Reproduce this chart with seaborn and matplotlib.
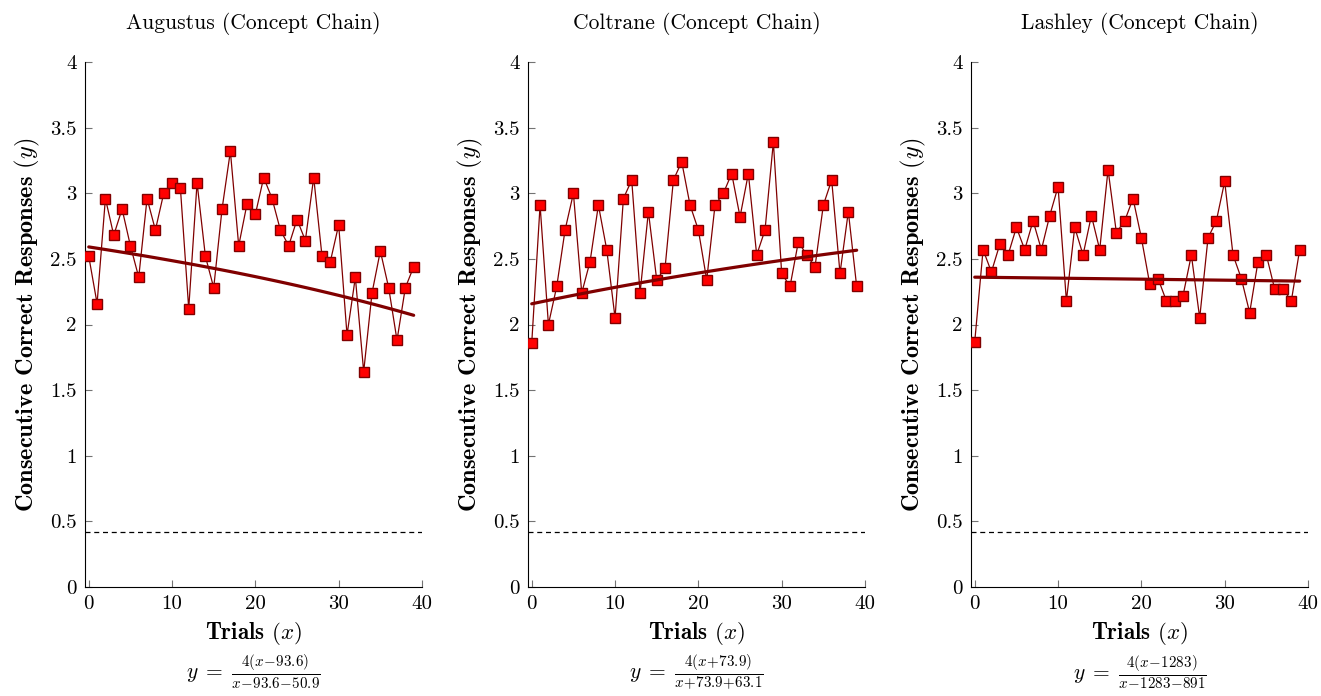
import numpy as np
import pandas as pd
import matplotlib
matplotlib.use("Agg")
import matplotlib.pyplot as plt
import seaborn as sns

# ---------------- data ----------------
trials = list(range(40))
augustus = [2.52, 2.16, 2.96, 2.68, 2.88, 2.60, 2.36, 2.96, 2.72, 3.00,
            3.08, 3.04, 2.12, 3.08, 2.52, 2.28, 2.88, 3.32, 2.60, 2.92,
            2.84, 3.12, 2.96, 2.72, 2.60, 2.80, 2.64, 3.12, 2.52, 2.48,
            2.76, 1.92, 2.36, 1.64, 2.24, 2.56, 2.28, 1.88, 2.28, 2.44]
coltrane = [1.86, 2.91, 2.00, 2.29, 2.72, 3.00, 2.24, 2.48, 2.91, 2.57,
            2.05, 2.96, 3.10, 2.24, 2.86, 2.34, 2.43, 3.10, 3.24, 2.91,
            2.72, 2.34, 2.91, 3.00, 3.15, 2.82, 3.15, 2.53, 2.72, 3.39,
            2.39, 2.29, 2.63, 2.53, 2.44, 2.91, 3.10, 2.39, 2.86, 2.29]
lashley = [1.87, 2.57, 2.40, 2.61, 2.53, 2.74, 2.57, 2.79, 2.57, 2.83,
           3.05, 2.18, 2.74, 2.53, 2.83, 2.57, 3.18, 2.70, 2.79, 2.96,
           2.66, 2.31, 2.35, 2.18, 2.18, 2.22, 2.53, 2.05, 2.66, 2.79,
           3.09, 2.53, 2.35, 2.09, 2.48, 2.53, 2.27, 2.27, 2.18, 2.57]
series = [augustus, coltrane, lashley]
titles = ["Augustus (Concept Chain)", "Coltrane (Concept Chain)", "Lashley (Concept Chain)"]
# fitted curve parameters: y = 4(x + a) / (x + a + b)
fit_a = [-93.6, 73.9, -1283.0]
fit_b = [-50.9, 63.1, -891.0]
fit_labels = [r"$y\;=\;\frac{4(x\!-\!93.6)}{x\!-\!93.6\!-\!50.9}$",
              r"$y\;=\;\frac{4(x\!+\!73.9)}{x\!+\!73.9\!+\!63.1}$",
              r"$y\;=\;\frac{4(x\!-\!1283)}{x\!-\!1283\!-\!891}$"]
chance = 0.42
y_ticks = [0, 0.5, 1, 1.5, 2, 2.5, 3, 3.5, 4]
y_ticklabels = ["0", "0.5", "1", "1.5", "2", "2.5", "3", "3.5", "4"]
x_ticks = [0, 10, 20, 30, 40]

# ---------------- style ----------------
sns.set_theme(style="white")
plt.rcParams["font.family"] = ["cmr10", "DejaVu Serif"]
plt.rcParams["mathtext.fontset"] = "cm"
plt.rcParams["axes.formatter.use_mathtext"] = True
plt.rcParams["axes.unicode_minus"] = False
for k in ["text.color", "axes.labelcolor", "xtick.labelcolor", "ytick.labelcolor"]:
    plt.rcParams[k] = "black"

dark = "#800000"
W, H = 1321, 696
fig = plt.figure(figsize=(W / 100, H / 100), dpi=100)

lefts = [85, 528, 971]
right_w = 337
bottom_px, top_px = 587, 62

for i in range(3):
    ax = fig.add_axes([lefts[i] / W, 1 - bottom_px / H, right_w / W, (bottom_px - top_px) / H])
    df = pd.DataFrame({"trial": trials, "value": series[i]})
    x = np.asarray(trials, dtype=float)
    fit = 4 * (x + fit_a[i]) / (x + fit_a[i] + fit_b[i])
    fdf = pd.DataFrame({"trial": trials, "fit": fit})

    ax.axhline(chance, color="black", lw=0.9, ls=(0, (4, 3)), zorder=1)
    sns.lineplot(data=df, x="trial", y="value", ax=ax, color=dark, lw=0.9,
                 marker="s", markersize=7.5, markerfacecolor="#ff0000",
                 markeredgecolor=dark, markeredgewidth=1.0, zorder=3)
    sns.lineplot(data=fdf, x="trial", y="fit", ax=ax, color=dark, lw=2.3, zorder=4)

    ax.set_xlim(-0.45, 40)
    ax.set_ylim(0, 4)
    ax.set_yticks(y_ticks)
    ax.set_yticklabels(y_ticklabels)
    ax.set_xticks(x_ticks)
    ax.set_xticklabels([str(t) for t in x_ticks])
    ax.tick_params(direction="in", length=5, width=0.8, color="0.45",
                   labelsize=15, labelcolor="black", pad=6, left=True, bottom=True)
    for lab in ax.get_xticklabels() + ax.get_yticklabels():
        lab.set_fontfamily("cmr10")
    for s in ["top", "right"]:
        ax.spines[s].set_visible(False)
    for s in ["left", "bottom"]:
        ax.spines[s].set_color("black")
        ax.spines[s].set_linewidth(0.8)

    ax.set_title(titles[i], fontsize=15.5, fontfamily="cmr10", pad=24, color="black")
    ax.set_xlabel(r"Trials $(x)$", fontsize=16.5, fontfamily="cmb10", labelpad=5)
    ax.set_ylabel(r"Consecutive Correct Responses $(y)$", fontsize=17.5,
                  fontfamily="cmb10", labelpad=6)
    cx = (lefts[i] + right_w / 2) / W
    fig.text(cx, (H - 672) / H, fit_labels[i], ha="center", va="center", fontsize=15.5)

fig.savefig("out.png", dpi=100)
